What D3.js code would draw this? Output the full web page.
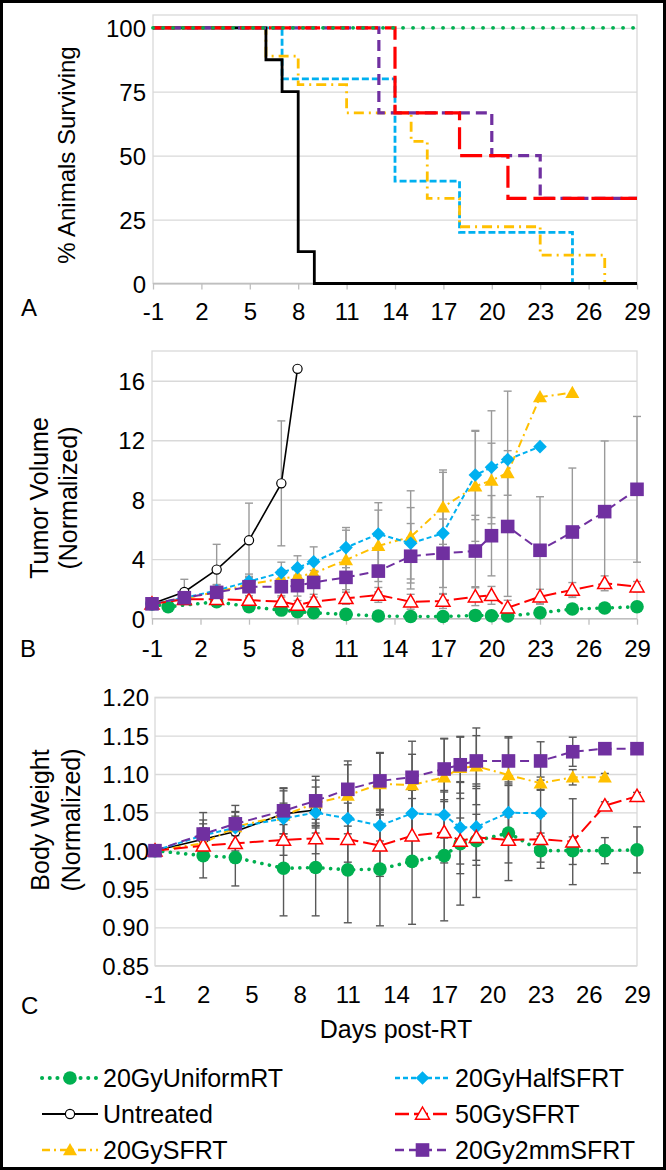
<!DOCTYPE html>
<html><head><meta charset="utf-8">
<script src="https://cdn.jsdelivr.net/npm/d3@7"></script>
<style>html,body{margin:0;padding:0;background:#fff}svg{display:block}</style>
</head><body>
<svg id="chart" width="666" height="1170"></svg>
<script>
// ---------------- DATA ----------------
const dayTicks = [-1, 2, 5, 8, 11, 14, 17, 20, 23, 26, 29];
const survTicks = [0, 25, 50, 75, 100];
const tvTicks = [0, 4, 8, 12, 16];
const bwTicks = [0.85, 0.90, 0.95, 1.00, 1.05, 1.10, 1.15, 1.20];

const seriesNames = ["20GyUniformRT", "Untreated", "20GySFRT", "20GyHalfSFRT", "50GySFRT", "20Gy2mmSFRT"];

// Panel A: survival (step after)
const survDaysUniform = [-1, 29];
const survUniform = [100, 100];
const survDaysUntreated = [-1, 6, 7, 8, 9, 29];
const survUntreated = [100, 87.5, 75, 12.5, 0, 0];
const survDaysSFRT = [-1, 6, 8, 11, 15, 16, 18, 23, 27, 29];
const survSFRT = [100, 88.9, 77.8, 66.7, 55.6, 33.3, 22.2, 11.1, 0, 0];
const survDaysHalf = [-1, 7, 14, 18, 25, 29];
const survHalf = [100, 80, 40, 20, 0, 0];
const survDays50 = [-1, 14, 18, 21, 29];
const surv50 = [100, 66.7, 50, 33.3, 33.3];
const survDays2mm = [-1, 13, 20, 23, 29];
const surv2mm = [100, 66.7, 50, 33.3, 33.3];

// Panel B: tumor volume (normalized)
const tvDaysUniform = [-1, 0, 3, 5, 7, 8, 9, 11, 13, 15, 17, 19, 20, 21, 23, 25, 27, 29];
const tvUniform = [1.0, 0.8, 1.14, 0.8, 0.58, 0.47, 0.4, 0.29, 0.18, 0.15, 0.15, 0.22, 0.2, 0.18, 0.4, 0.65, 0.72, 0.8];
const tvUniformErr = [0, 0.1, 0.2, 0.2, 0.15, 0.15, 0.1, 0.1, 0.1, 0.1, 0.1, 0.1, 0.15, 0.2, 0.2, 0.3, 0.3, 0.3];
const tvDaysUntreated = [-1, 1, 3, 5, 7, 8];
const tvUntreated = [1.0, 1.8, 3.3, 5.27, 9.1, 16.8];
const tvUntreatedErr = [0, 0.85, 1.7, 2.5, 4.2, 0];
const tvDaysSFRT = [-1, 1, 3, 5, 7, 8, 9, 11, 13, 15, 17, 19, 20, 21, 23, 25];
const tvSFRT = [1.0, 1.35, 1.8, 2.3, 2.7, 2.85, 3.05, 3.95, 4.9, 5.5, 7.5, 8.9, 9.3, 9.8, 14.9, 15.2];
const tvSFRTErr = [0, 0.2, 0.3, 0.5, 0.6, 0.7, 0.8, 2.0, 2.4, 3.1, 2.5, 3.7, 2.5, 1.5, 0, 0];
const tvDaysHalf = [-1, 1, 3, 5, 7, 8, 9, 11, 13, 15, 17, 19, 20, 21, 23];
const tvHalf = [1.0, 1.4, 1.9, 2.5, 3.1, 3.43, 3.83, 4.78, 5.7, 5.07, 5.74, 9.66, 10.18, 10.7, 11.57];
const tvHalfErr = [0, 0.2, 0.4, 0.5, 0.7, 0.8, 1.0, 1.35, 2.1, 2.4, 4.1, 3.0, 3.8, 4.6, 0];
const tvDays50 = [-1, 1, 3, 5, 7, 8, 9, 11, 13, 15, 17, 19, 20, 21, 23, 25, 27, 29];
const tv50 = [1.0, 1.3, 1.3, 1.25, 1.15, 0.92, 1.15, 1.37, 1.6, 1.14, 1.19, 1.48, 1.57, 0.74, 1.48, 1.93, 2.38, 2.15];
const tv50Err = [0, 0.2, 0.3, 0.3, 0.3, 0.3, 0.3, 0.4, 0.5, 0.5, 0.5, 0.6, 0.6, 0.5, 0.5, 0.5, 0.5, 0.35];
const tvDays2mm = [-1, 1, 3, 5, 7, 8, 9, 11, 13, 15, 17, 19, 20, 21, 23, 25, 27, 29];
const tv2mm = [1.0, 1.41, 1.77, 2.15, 2.15, 2.22, 2.44, 2.78, 3.2, 4.2, 4.4, 4.55, 5.58, 6.2, 4.6, 5.83, 7.2, 8.7];
const tv2mmErr = [0, 0.3, 0.5, 0.7, 0.6, 0.7, 0.8, 1.0, 1.4, 2.2, 2.3, 2.4, 2.7, 4.7, 3.6, 4.3, 4.75, 4.9];

// Panel C: body weight (normalized)
const bwDaysUniform = [-1, 2, 4, 7, 9, 11, 13, 15, 17, 18, 19, 21, 23, 25, 27, 29];
const bwUniform = [1.0, 0.9935, 0.991, 0.977, 0.978, 0.975, 0.976, 0.986, 0.9935, 1.009, 1.013, 1.023, 1.0, 1.0, 1.0, 1.001];
const bwUniformErr = [0, 0.029, 0.037, 0.062, 0.063, 0.069, 0.074, 0.082, 0.085, 0.08, 0.074, 0.062, 0.023, 0.018, 0.017, 0.03];
const bwDaysUntreated = [-1, 2, 4, 7, 9];
const bwUntreated = [1.0, 1.015, 1.025, 1.048, 1.053];
const bwUntreatedErr = [0, 0.02, 0.02, 0.03, 0.03];
const bwDaysSFRT = [-1, 2, 4, 7, 9, 11, 13, 15, 17, 18, 19, 21, 23, 25, 27];
const bwSFRT = [1.0, 1.0096, 1.031, 1.046, 1.062, 1.072, 1.087, 1.0857, 1.0957, 1.108, 1.11, 1.0987, 1.088, 1.0957, 1.0957];
const bwSFRTErr = [0, 0.02, 0.02, 0.035, 0.03, 0.04, 0.04, 0.04, 0.05, 0.04, 0.05, 0.05, 0.008, 0.01, 0.005];
const bwDaysHalf = [-1, 2, 4, 7, 9, 11, 13, 15, 17, 18, 19, 21, 23];
const bwHalf = [1.0, 1.02, 1.03, 1.042, 1.0496, 1.042, 1.0326, 1.0487, 1.0465, 1.03, 1.031, 1.0496, 1.0487];
const bwHalfErr = [0, 0.02, 0.02, 0.02, 0.02, 0.02, 0.02, 0.03, 0.03, 0.06, 0.05, 0.04, 0.03];
const bwDays50 = [-1, 2, 4, 7, 9, 11, 13, 15, 17, 18, 19, 21, 23, 25, 27, 29];
const bw50 = [1.0, 1.0065, 1.0096, 1.014, 1.016, 1.015, 1.0065, 1.0196, 1.024, 1.0126, 1.0174, 1.014, 1.015, 1.0117, 1.0587, 1.071];
const bw50Err = [0, 0.01, 0.01, 0.02, 0.02, 0.03, 0.04, 0.03, 0.04, 0.03, 0.03, 0.03, 0.03, 0.056, 0.005, 0.005];
const bwDays2mm = [-1, 2, 4, 7, 9, 11, 13, 15, 17, 18, 19, 21, 23, 25, 27, 29];
const bw2mm = [1.0, 1.0217, 1.035, 1.052, 1.065, 1.080, 1.091, 1.0957, 1.1065, 1.112, 1.117, 1.117, 1.117, 1.129, 1.133, 1.133];
const bw2mmErr = [0, 0.028, 0.024, 0.03, 0.032, 0.037, 0.037, 0.047, 0.04, 0.037, 0.033, 0.03, 0.025, 0.019, 0.005, 0.005];

// ---------------- STYLES ----------------
const FONT = "'Liberation Sans', Arial, Helvetica, sans-serif";
const GRID = "#d9d9d9";
const TICK_FS = 24, TITLE_FS = 25;
const styles = {
  "20GyUniformRT": {color: "#00B050", marker: "circle",    dashA: "0.1 9.9",  wA: 3.8, dash: "0.1 7.6", w: 3.6, cap: "round"},
  "Untreated":     {color: "#000000", marker: "ocircle",   dashA: null,       wA: 2.8, dash: null,      w: 1.6, cap: "butt"},
  "20GySFRT":      {color: "#FFC000", marker: "triangle",  dashA: "10 5 2 5", wA: 2.8, dash: "8 4 2 4", w: 2, cap: "butt"},
  "20GyHalfSFRT":  {color: "#00B0F0", marker: "diamond",   dashA: "7 3",      wA: 2.8, dash: "5 3",     w: 2, cap: "butt"},
  "50GySFRT":      {color: "#FF0000", marker: "otriangle", dashA: "22 7",     wA: 3.2, dash: "14 5",    w: 2, cap: "butt"},
  "20Gy2mmSFRT":   {color: "#7030A0", marker: "square",    dashA: "11 6",     wA: 3.2, dash: "9 5",     w: 2, cap: "butt"}
};

// ---------------- SETUP ----------------
const svg = d3.select("#chart");
svg.append("rect").attr("x", 0).attr("y", 0).attr("width", 666).attr("height", 1170).attr("fill", "#fff");
svg.append("rect").attr("x", 1.5).attr("y", 1.5).attr("width", 663).attr("height", 1167)
  .attr("fill", "none").attr("stroke", "#000").attr("stroke-width", 3);

const xA = d3.scaleLinear().domain([-1, 29]).range([153, 637]);
const yA = d3.scaleLinear().domain([0, 105]).range([283.5, 15]);
const xB = d3.scaleLinear().domain([-1, 29]).range([152, 637]);
const yB = d3.scaleLinear().domain([0, 18]).range([618.7, 351]);
const xC = d3.scaleLinear().domain([-1, 29]).range([155, 637]);
const yC = d3.scaleLinear().domain([0.85, 1.20]).range([965.7, 697.3]);

function frame(x, y, yTicks, fmt, labelRight, xBase, ticksDown, bottomColor) {
  const g = svg.append("g");
  const [x0, x1] = x.range();
  const [y0, y1] = y.range();
  g.append("g").call(d3.axisLeft(y).tickValues(yTicks).tickSize(-(x1 - x0)).tickFormat(""))
    .attr("transform", `translate(${x0},0)`)
    .call(s => { s.select(".domain").remove(); s.selectAll("line").attr("stroke", GRID).attr("stroke-width", 1.3); });
  g.append("rect").attr("x", x0).attr("y", y1).attr("width", x1 - x0).attr("height", y0 - y1)
    .attr("fill", "none").attr("stroke", GRID).attr("stroke-width", 1.3);
  g.append("line").attr("x1", x0).attr("x2", x1).attr("y1", y0).attr("y2", y0)
    .attr("stroke", bottomColor).attr("stroke-width", 1.3);
  const ya = g.append("g").attr("transform", `translate(${labelRight},0)`)
    .call(d3.axisLeft(y).tickValues(yTicks).tickSize(0).tickPadding(0).tickFormat(fmt));
  ya.select(".domain").remove();
  ya.selectAll("text").attr("font-family", FONT).attr("font-size", TICK_FS).attr("fill", "#000").attr("dy", "0.36em");
  const xa = g.append("g").attr("transform", `translate(0,${y0})`)
    .call(d3.axisBottom(x).tickValues(dayTicks).tickSize(ticksDown ? 6 : 0).tickFormat(d => String(d)));
  xa.select(".domain").remove();
  xa.selectAll(".tick line").attr("stroke", "#bfbfbf").attr("stroke-width", 1.3);
  xa.selectAll("text").attr("font-family", FONT).attr("font-size", TICK_FS).attr("fill", "#000")
    .attr("y", xBase - y0).attr("dy", null);
  return g;
}

function marker(g, type, cx, cy, color, s) {
  s = s || 1;
  if (type === "circle") {
    g.append("circle").attr("cx", cx).attr("cy", cy).attr("r", 6.8 * s).attr("fill", color);
  } else if (type === "ocircle") {
    g.append("circle").attr("cx", cx).attr("cy", cy).attr("r", 4.6 * s).attr("fill", "#fff").attr("stroke", color).attr("stroke-width", 1.2);
  } else if (type === "triangle" || type === "otriangle") {
    const h = 7 * s;
    const p = `M${cx},${cy - h} L${cx + h},${cy + h * 0.75} L${cx - h},${cy + h * 0.75} Z`;
    const e = g.append("path").attr("d", p);
    if (type === "triangle") e.attr("fill", color);
    else e.attr("fill", "#fff").attr("stroke", color).attr("stroke-width", 1.5);
  } else if (type === "diamond") {
    const h = 6.8 * s;
    g.append("path").attr("d", `M${cx},${cy - h} L${cx + h},${cy} L${cx},${cy + h} L${cx - h},${cy} Z`).attr("fill", color);
  } else if (type === "square") {
    const h = 6.8 * s;
    g.append("rect").attr("x", cx - h).attr("y", cy - h).attr("width", 2 * h).attr("height", 2 * h).attr("fill", color);
  }
}

function seriesPanel(x, y, sets, errColor, errW) {
  const gE = svg.append("g");
  const gS = svg.append("g");
  sets.forEach(([name, days, vals, errs]) => {
    days.forEach((d, i) => {
      const e = errs[i];
      if (!e) return;
      const cx = x(d), yt = y(vals[i] + e), yb = y(vals[i] - e);
      gE.append("line").attr("x1", cx).attr("x2", cx).attr("y1", yt).attr("y2", yb).attr("stroke", errColor).attr("stroke-width", errW);
      [yt, yb].forEach(yy => gE.append("line").attr("x1", cx - 4).attr("x2", cx + 4).attr("y1", yy).attr("y2", yy)
        .attr("stroke", errColor).attr("stroke-width", errW));
    });
  });
  sets.forEach(([name, days, vals]) => {
    const st = styles[name];
    const pts = days.map((d, i) => [d, vals[i]]);
    const line = d3.line().x(p => x(p[0])).y(p => y(p[1]));
    gS.append("path").attr("d", line(pts)).attr("fill", "none").attr("stroke", st.color)
      .attr("stroke-width", st.w).attr("stroke-dasharray", st.dash).attr("stroke-linecap", st.cap);
    pts.forEach(p => marker(gS, st.marker, x(p[0]), y(p[1]), st.color));
  });
}

function twoLineTitle(cy, b1, b2, l1, l2) {
  const t = svg.append("text").attr("transform", `translate(0,${cy}) rotate(-90)`).attr("text-anchor", "middle")
    .attr("font-family", FONT).attr("font-size", TITLE_FS);
  t.append("tspan").attr("x", 0).attr("y", b1).text(l1);
  t.append("tspan").attr("x", 0).attr("y", b2).text(l2);
}

// ---------------- PANEL A ----------------
frame(xA, yA, survTicks, d => String(d), 146, 320, true, "#bfbfbf");
const survSets = [
  ["20GyHalfSFRT", survDaysHalf, survHalf],
  ["20GySFRT", survDaysSFRT, survSFRT],
  ["Untreated", survDaysUntreated, survUntreated],
  ["20Gy2mmSFRT", survDays2mm, surv2mm],
  ["50GySFRT", survDays50, surv50],
  ["20GyUniformRT", survDaysUniform, survUniform]
];
const gA = svg.append("g");
survSets.forEach(([name, days, vals]) => {
  const st = styles[name];
  const line = d3.line().x(d => xA(d)).y((d, i) => yA(vals[i])).curve(d3.curveStepAfter);
  gA.append("path").attr("d", line(days)).attr("fill", "none").attr("stroke", st.color)
    .attr("stroke-width", st.wA).attr("stroke-dasharray", st.dashA).attr("stroke-linecap", st.cap);
});
svg.append("text").attr("transform", "translate(75,155) rotate(-90)").attr("text-anchor", "middle")
  .attr("font-family", FONT).attr("font-size", 24).text("% Animals Surviving");
svg.append("text").attr("x", 21).attr("y", 316).attr("font-family", FONT).attr("font-size", TICK_FS).text("A");

// ---------------- PANEL B ----------------
frame(xB, yB, tvTicks, d => String(d), 145, 657, true, "#bfbfbf");
seriesPanel(xB, yB, [
  ["20GyUniformRT", tvDaysUniform, tvUniform, tvUniformErr],
  ["Untreated", tvDaysUntreated, tvUntreated, tvUntreatedErr],
  ["20GySFRT", tvDaysSFRT, tvSFRT, tvSFRTErr],
  ["20GyHalfSFRT", tvDaysHalf, tvHalf, tvHalfErr],
  ["50GySFRT", tvDays50, tv50, tv50Err],
  ["20Gy2mmSFRT", tvDays2mm, tv2mm, tv2mmErr]
], "#9a9a9a", 1.4);
twoLineTitle(498, 48, 77, "Tumor Volume", "(Normalized)");
svg.append("text").attr("x", 20).attr("y", 657).attr("font-family", FONT).attr("font-size", TICK_FS).text("B");

// ---------------- PANEL C ----------------
frame(xC, yC, bwTicks, d3.format(".2f"), 149, 1003, false, GRID);
seriesPanel(xC, yC, [
  ["20GyUniformRT", bwDaysUniform, bwUniform, bwUniformErr],
  ["Untreated", bwDaysUntreated, bwUntreated, bwUntreatedErr],
  ["20GySFRT", bwDaysSFRT, bwSFRT, bwSFRTErr],
  ["20GyHalfSFRT", bwDaysHalf, bwHalf, bwHalfErr],
  ["50GySFRT", bwDays50, bw50, bw50Err],
  ["20Gy2mmSFRT", bwDays2mm, bw2mm, bw2mmErr]
], "#595959", 1.4);
twoLineTitle(820, 49, 80, "Body Weight", "(Normalized)");
svg.append("text").attr("x", 21).attr("y", 1014).attr("font-family", FONT).attr("font-size", TICK_FS).text("C");
svg.append("text").attr("x", 396).attr("y", 1038).attr("text-anchor", "middle")
  .attr("font-family", FONT).attr("font-size", TITLE_FS).text("Days post-RT");

// ---------------- LEGEND ----------------
const legendRows = [1078, 1114, 1150];
const legendCols = [{x0: 42, x1: 98, tx: 103}, {x0: 395, x1: 450, tx: 455}];
const gL = svg.append("g");
seriesNames.forEach((name, i) => {
  const col = legendCols[Math.floor(i / 3)];
  const yy = legendRows[i % 3];
  const st = styles[name];
  gL.append("line").attr("x1", col.x0).attr("x2", col.x1).attr("y1", yy).attr("y2", yy)
    .attr("stroke", st.color).attr("stroke-width", st.w + 0.4).attr("stroke-dasharray", st.dash).attr("stroke-linecap", st.cap);
  marker(gL, st.marker, (col.x0 + col.x1) / 2, yy, st.color);
  gL.append("text").attr("x", col.tx).attr("y", yy).attr("dy", "0.36em")
    .attr("font-family", FONT).attr("font-size", TITLE_FS).text(name);
});
</script></body></html>
